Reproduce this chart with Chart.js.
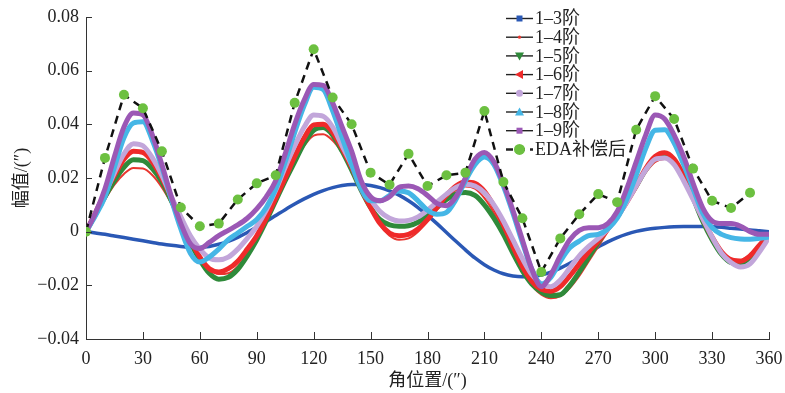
<!DOCTYPE html>
<html>
<head>
<meta charset="utf-8">
<script src="https://cdn.jsdelivr.net/npm/chart.js@4.4.1/dist/chart.umd.min.js"></script>
<style>html,body{margin:0;padding:0;background:#fff}</style>
</head>
<body>
<canvas id="c" width="785" height="393"></canvas>
<script>
// angle grid of the fitted curves (deg)
const angles = [0,5,10,15,20,25,30,35,40,45,50,55,
  60,65,70,75,80,85,90,95,100,105,110,115,
  120,125,130,135,140,145,150,155,160,165,170,175,
  180,185,190,195,200,205,210,215,220,225,230,235,
  240,245,250,255,260,265,270,275,280,285,290,295,
  300,305,310,315,320,325,330,335,340,345,350,355,360];

const order3 = [0,-0.0005,-0.001,-0.0016,-0.0022,-0.0028,-0.0034,-0.004,-0.0046,-0.0051,-0.0055,-0.0058,
  -0.0058,-0.0055,-0.0047,-0.0036,-0.0021,-0.0003,0.0017,0.0038,0.006,0.0082,0.0103,0.0122,
  0.0139,0.0153,0.0164,0.0172,0.0176,0.0176,0.0172,0.0164,0.0152,0.0136,0.0115,0.009,
  0.0061,0.003,-0.0003,-0.0036,-0.0068,-0.0098,-0.0123,-0.0143,-0.0157,-0.0165,-0.0168,-0.0167,
  -0.0162,-0.0151,-0.0136,-0.0118,-0.0098,-0.0077,-0.0057,-0.0038,-0.0022,-0.0009,0.0001,0.0008,
  0.0013,0.0016,0.0018,0.0019,0.0019,0.0019,0.0018,0.0016,0.0013,0.001,0.0006,0.0003,0];

const order4 = [0,0.006,0.012,0.0175,0.0215,0.0237,0.0235,0.021,0.0165,0.0105,0.0035,-0.0035,
  -0.0095,-0.0138,-0.0158,-0.0155,-0.013,-0.0085,-0.0025,0.0045,0.012,0.0195,0.0265,0.032,
  0.0358,0.0363,0.034,0.0295,0.0235,0.016,0.0085,0.0025,-0.0015,-0.003,-0.0025,0,
  0.004,0.0085,0.0125,0.0155,0.0168,0.016,0.0125,0.007,0,-0.0075,-0.0145,-0.02,
  -0.0235,-0.0248,-0.024,-0.021,-0.0165,-0.011,-0.0055,0,0.0055,0.011,0.0165,0.022,
  0.026,0.0271,0.025,0.0195,0.012,0.004,-0.0025,-0.0075,-0.01,-0.0105,-0.0085,-0.005,-0.001];

const order5 = [0,0.0065,0.013,0.019,0.024,0.0268,0.0265,0.0235,0.0185,0.0115,0.004,-0.004,
  -0.0105,-0.0155,-0.0177,-0.017,-0.014,-0.009,-0.003,0.004,0.0115,0.019,0.026,0.033,
  0.0378,0.0388,0.036,0.03,0.023,0.0155,0.009,0.0045,0.0025,0.002,0.0022,0.0035,
  0.006,0.009,0.012,0.014,0.0146,0.0135,0.01,0.005,-0.001,-0.008,-0.0145,-0.0195,
  -0.0225,-0.0238,-0.0235,-0.02,-0.015,-0.0095,-0.004,0.0015,0.006,0.0115,0.017,0.023,
  0.0275,0.0286,0.026,0.0205,0.0125,0.004,-0.003,-0.0085,-0.0115,-0.0118,-0.0095,-0.0055,-0.001];

const order6 = [0,0.007,0.0145,0.021,0.027,0.03,0.0295,0.026,0.02,0.0125,0.005,-0.003,
  -0.0095,-0.0138,-0.015,-0.0138,-0.011,-0.0065,-0.0015,0.005,0.0125,0.02,0.028,0.035,
  0.0398,0.04,0.037,0.031,0.024,0.016,0.009,0.003,-0.0005,-0.0015,-0.001,0.001,
  0.0045,0.009,0.0135,0.017,0.0185,0.018,0.015,0.0095,0.0025,-0.0055,-0.013,-0.0185,
  -0.0215,-0.0222,-0.0205,-0.0165,-0.012,-0.0075,-0.0035,0.001,0.0055,0.011,0.017,0.0235,
  0.028,0.0294,0.027,0.021,0.013,0.005,-0.002,-0.0075,-0.0105,-0.011,-0.009,-0.005,-0.001];

const order7 = [0,0.0065,0.014,0.022,0.029,0.0328,0.032,0.0275,0.021,0.013,0.0055,-0.0015,
  -0.0065,-0.0098,-0.0105,-0.0095,-0.0065,-0.0025,0.002,0.008,0.0155,0.024,0.032,0.039,
  0.0435,0.043,0.039,0.032,0.025,0.018,0.012,0.0075,0.005,0.004,0.0042,0.0055,
  0.008,0.011,0.014,0.0165,0.0177,0.017,0.0145,0.01,0.004,-0.003,-0.01,-0.016,
  -0.0195,-0.0205,-0.018,-0.0135,-0.009,-0.0055,-0.0025,0.001,0.0055,0.011,0.017,0.023,
  0.027,0.0275,0.025,0.019,0.012,0.005,-0.002,-0.008,-0.0115,-0.0132,-0.012,-0.0075,-0.0022];

const order8 = [0,0.006,0.013,0.024,0.035,0.0405,0.041,0.034,0.024,0.012,0.001,-0.008,
  -0.0113,-0.0095,-0.0065,-0.003,-0.0005,0.002,0.0045,0.009,0.016,0.026,0.037,0.047,
  0.0538,0.053,0.045,0.035,0.025,0.016,0.0115,0.0115,0.0135,0.0152,0.0145,0.0115,
  0.008,0.0065,0.0072,0.012,0.019,0.025,0.0278,0.025,0.017,0.007,-0.004,-0.014,
  -0.0195,-0.017,-0.011,-0.006,-0.0035,-0.0015,-0.001,0.001,0.005,0.012,0.021,0.031,
  0.0378,0.038,0.033,0.025,0.016,0.007,0.0015,-0.001,-0.0022,-0.0027,-0.0028,-0.0025,-0.002];

const order9 = [0,0.007,0.016,0.028,0.039,0.0442,0.0435,0.036,0.025,0.013,0.003,-0.0045,
  -0.0063,-0.004,-0.0015,0.0005,0.0025,0.005,0.0085,0.013,0.019,0.029,0.04,0.049,
  0.0548,0.0545,0.048,0.039,0.03,0.019,0.013,0.0115,0.013,0.0165,0.017,0.016,
  0.0135,0.0105,0.0097,0.013,0.02,0.027,0.0295,0.026,0.018,0.008,-0.003,-0.014,
  -0.0205,-0.016,-0.009,-0.003,0.0005,0.0015,0.0015,0.003,0.0075,0.016,0.026,0.036,
  0.0435,0.042,0.036,0.028,0.018,0.009,0.004,0.003,0.003,0.002,0,-0.001,-0.001];

// EDA compensated points, every 10 deg
const edaAngles = [0,10,20,30,40,50,60,70,80,90,100,110,120,130,140,150,160,170,
  180,190,200,210,220,230,240,250,260,270,280,290,300,310,320,330,340,350];
const edaValues = [0,0.0275,0.051,0.046,0.030,0.009,0.002,0.003,0.012,0.018,0.021,0.048,
  0.068,0.050,0.040,0.022,0.0175,0.029,0.017,0.021,0.022,0.045,0.0185,0.005,
  -0.015,-0.0025,0.0065,0.014,0.011,0.038,0.0505,0.042,0.0235,0.0115,0.0088,0.0145];

const seriesNames = ['1–3阶','1–4阶','1–5阶','1–6阶','1–7阶','1–8阶','1–9阶','EDA补偿后'];
const xTickLabels = ['0','30','60','90','120','150','180','210','240','270','300','330','360'];
const yTickLabels = ['−0.04','−0.02','0','0.02','0.04','0.06','0.08'];

const colors = ['#2a58b5','#e8362f','#2f8a3a','#ef2a2a','#c2a6da','#45b6e6','#9b58b5','#111111'];
const widths = [3.5, 2, 5, 5, 5, 5, 5, 2.5];
const markers = ['square','dot','triDown','triLeft','circle','triUp','square','circle'];
const markerColors = ['#2a58b5','#e8362f','#2f8a3a','#ef2a2a','#c2a6da','#45b6e6','#9b58b5','#6cc040'];

const FONT = '"Liberation Serif", "Noto Sans CJK SC", serif';
const curves = [order3, order4, order5, order6, order7, order8, order9];

const datasets = curves.map((vals, i) => ({
  label: seriesNames[i],
  data: angles.map((a, k) => ({x: a, y: vals[k]})),
  borderColor: colors[i],
  borderWidth: widths[i],
  pointRadius: 0,
  cubicInterpolationMode: 'monotone',
  order: 10 - i
}));
datasets.push({
  label: seriesNames[7],
  data: edaAngles.map((a, k) => ({x: a, y: edaValues[k]})),
  borderColor: '#111',
  borderWidth: 2.5,
  borderDash: [8, 6],
  pointRadius: 5,
  pointBackgroundColor: '#6cc040',
  pointBorderColor: '#6cc040',
  pointBorderWidth: 0,
  tension: 0,
  order: 0
});

function drawMarker(ctx, type, x, y, color) {
  ctx.fillStyle = color;
  ctx.beginPath();
  if (type === 'square') ctx.rect(x - 3, y - 3, 6, 6);
  else if (type === 'dot') ctx.arc(x, y, 1.6, 0, Math.PI * 2);
  else if (type === 'circle') ctx.arc(x, y, color === '#6cc040' ? 5.5 : 3.5, 0, Math.PI * 2);
  else if (type === 'triUp') { ctx.moveTo(x, y - 4.5); ctx.lineTo(x + 4.5, y + 3.5); ctx.lineTo(x - 4.5, y + 3.5); }
  else if (type === 'triDown') { ctx.moveTo(x, y + 4.5); ctx.lineTo(x + 4.5, y - 3.5); ctx.lineTo(x - 4.5, y - 3.5); }
  else if (type === 'triLeft') { ctx.moveTo(x - 4.5, y); ctx.lineTo(x + 3.5, y - 4.5); ctx.lineTo(x + 3.5, y + 4.5); }
  ctx.closePath();
  ctx.fill();
}

const inwardTicks = {
  id: 'inwardTicks',
  afterDatasetsDraw(chart) {
    const {ctx, chartArea: a, scales: {x, y}} = chart;
    ctx.save();
    ctx.strokeStyle = '#333';
    ctx.lineWidth = 1;
    x.ticks.forEach(t => {
      const px = Math.round(x.getPixelForValue(t.value)) + 0.5;
      ctx.beginPath(); ctx.moveTo(px, a.bottom); ctx.lineTo(px, a.bottom - 7); ctx.stroke();
    });
    y.ticks.forEach(t => {
      const py = Math.round(y.getPixelForValue(t.value)) + 0.5;
      ctx.beginPath(); ctx.moveTo(a.left, py); ctx.lineTo(a.left + 6, py); ctx.stroke();
    });
    ctx.restore();
  }
};

const seriesLegend = {
  id: 'seriesLegend',
  afterDraw(chart) {
    const ctx = chart.ctx;
    ctx.save();
    ctx.font = '18px ' + FONT;
    ctx.textBaseline = 'middle';
    seriesNames.forEach((name, i) => {
      const y = 18.5 + i * 18.7;
      ctx.strokeStyle = '#222';
      ctx.lineWidth = i === 7 ? 2.5 : 1.4;
      ctx.setLineDash(i === 7 ? [7, 5] : []);
      ctx.beginPath(); ctx.moveTo(506, y); ctx.lineTo(533, y); ctx.stroke();
      ctx.setLineDash([]);
      drawMarker(ctx, markers[i], 519.5, y, markerColors[i]);
      ctx.fillStyle = '#222';
      ctx.fillText(name, 535, y + 1);
    });
    ctx.restore();
  }
};

new Chart(document.getElementById('c'), {
  type: 'line',
  data: {datasets: datasets},
  options: {
    responsive: false,
    animation: false,
    devicePixelRatio: 1,
    layout: {padding: {top: 17, right: 16, left: 0, bottom: 0}},
    plugins: {legend: {display: false}, tooltip: {enabled: false}},
    scales: {
      x: {
        type: 'linear', min: 0, max: 360,
        grid: {display: false, drawTicks: false},
        border: {display: true, color: '#333', width: 1},
        ticks: {
          stepSize: 30, padding: 9, color: '#222', maxRotation: 0,
          font: {family: FONT, size: 18},
          callback: v => xTickLabels[Math.round(v / 30)]
        },
        title: {display: true, text: '角位置/(″)', color: '#222',
          font: {family: FONT, size: 18}, padding: {top: 0, bottom: 1}},
        afterFit: s => { s.height = 54; s.paddingRight = 0; s.paddingLeft = 0; }
      },
      y: {
        min: -0.04, max: 0.08,
        grid: {display: false, drawTicks: false},
        border: {display: true, color: '#333', width: 1},
        ticks: {
          stepSize: 0.02, padding: 7, color: '#222',
          font: {family: FONT, size: 18},
          callback: v => yTickLabels[Math.round((v + 0.04) / 0.02)]
        },
        title: {display: true, text: '幅值/(″)', color: '#222',
          font: {family: FONT, size: 18}, padding: {top: 11, bottom: 0}},
        afterFit: s => { s.width = 86; s.paddingTop = 0; s.paddingBottom = 0; }
      }
    }
  },
  plugins: [inwardTicks, seriesLegend]
});
</script>
</body>
</html>
